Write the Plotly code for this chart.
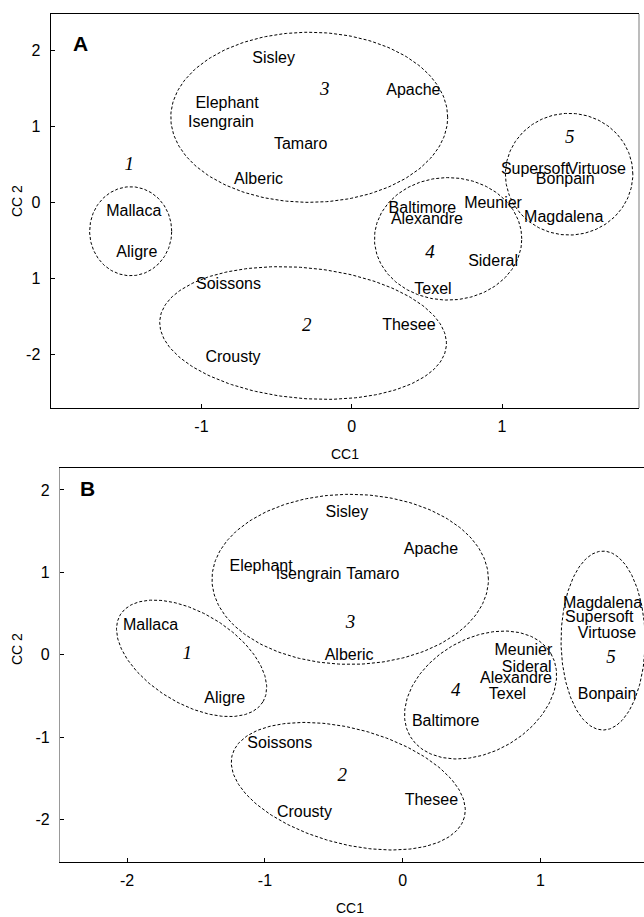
import numpy as np
import plotly.graph_objects as go

# ---------------- Panel A data ----------------
names_A = ["Sisley", "Apache", "Elephant", "Isengrain", "Tamaro", "Alberic",
           "Mallaca", "Aligre", "Soissons", "Crousty", "Thesee",
           "Baltimore", "Alexandre", "Meunier", "Sideral", "Texel",
           "Supersoft", "Virtuose", "Bonpain", "Magdalena"]
cc1_A = [-0.52, 0.41, -0.83, -0.87, -0.34, -0.62,
         -1.45, -1.43, -0.82, -0.79, 0.38,
         0.47, 0.50, 0.94, 0.94, 0.54,
         1.22, 1.63, 1.42, 1.41]
cc2_A = [1.88, 1.47, 1.29, 1.04, 0.75, 0.29,
         -0.13, -0.66, -1.09, -2.05, -1.63,
         -0.09, -0.23, -0.02, -0.78, -1.15,
         0.43, 0.43, 0.29, -0.20]
group_A = ["1", "2", "3", "4", "5"]
group_cc1_A = [-1.48, -0.30, -0.18, 0.52, 1.45]
group_cc2_A = [0.49, -1.63, 1.47, -0.67, 0.84]
# ellipse: centre (cx, cy) and two conjugate semi-axis vectors (ux, uy), (vx, vy)
ell_cx_A = [-1.471, -0.324, -0.283, 0.641, 1.446]
ell_cy_A = [-0.379, -1.717, 1.119, -0.479, 0.371]
ell_u_A = [(0.273, 0.0), (0.953, -0.173), (0.921, 0.0), (0.490, 0.0), (0.424, 0.0)]
ell_v_A = [(0.0, 0.585), (-0.040, -0.855), (0.0, 1.118), (0.0, 0.805), (0.0, 0.800)]
xticks_A = [-1, 0, 1]
yticks_A = [2, 1, 0, -1, -2]
yticktext_A = ["2", "1", "0", "1", "-2"]

# ---------------- Panel B data ----------------
names_B = ["Sisley", "Apache", "Elephant", "Isengrain", "Tamaro", "Alberic",
           "Mallaca", "Aligre", "Soissons", "Crousty", "Thesee",
           "Baltimore", "Alexandre", "Meunier", "Sideral", "Texel",
           "Supersoft", "Virtuose", "Bonpain", "Magdalena"]
cc1_B = [-0.405, 0.205, -1.028, -0.683, -0.217, -0.389,
         -1.830, -1.291, -0.892, -0.713, 0.208,
         0.312, 0.822, 0.876, 0.900, 0.760,
         1.426, 1.483, 1.483, 1.450]
cc2_B = [1.724, 1.27, 1.07, 0.97, 0.97, -0.02,
         0.35, -0.54, -1.08, -1.92, -1.77,
         -0.82, -0.30, 0.05, -0.16, -0.49,
         0.44, 0.25, -0.49, 0.62]
group_B = ["1", "2", "3", "4", "5"]
group_cc1_B = [-1.564, -0.438, -0.378, 0.384, 1.511]
group_cc2_B = [0.0, -1.48, 0.38, -0.44, -0.04]
ell_cx_B = [-1.532, -0.395, -0.381, 0.565, 1.454]
ell_cy_B = [-0.044, -1.596, 0.915, -0.489, 0.172]
ell_u_B = [(0.517, -0.530), (0.842, -0.379), (1.003, 0.0), (0.511, 0.501), (0.305, 0.0)]
ell_v_B = [(-0.172, -0.468), (-0.109, -0.675), (0.0, 1.032), (0.208, -0.593), (0.0, 1.086)]
xticks_B = [-2, -1, 0, 1]
yticks_B = [2, 1, 0, -1, -2]

SANS = "Liberation Sans, Arial, Helvetica, sans-serif"
SERIF = "Liberation Serif, Times New Roman, serif"

fig = go.Figure()
t = np.linspace(0, 2 * np.pi, 240)


def add_panel(xa, ya, names, xs, ys, gl, gx, gy, cxs, cys, us, vs):
    for cx, cy, u, v in zip(cxs, cys, us, vs):
        ex = cx + u[0] * np.cos(t) + v[0] * np.sin(t)
        ey = cy + u[1] * np.cos(t) + v[1] * np.sin(t)
        fig.add_trace(go.Scatter(x=ex, y=ey, mode="lines", xaxis=xa, yaxis=ya,
                                 line=dict(color="black", width=1, dash="3px,2px"),
                                 hoverinfo="skip", showlegend=False))
    fig.add_trace(go.Scatter(x=xs, y=ys, text=names, mode="text", xaxis=xa, yaxis=ya,
                             textposition="middle center",
                             textfont=dict(family=SANS, size=16, color="black"),
                             showlegend=False))
    fig.add_trace(go.Scatter(x=gx, y=gy, text=gl, mode="text", xaxis=xa, yaxis=ya,
                             textposition="middle center",
                             textfont=dict(family=SERIF, size=19, color="black", style="italic"),
                             showlegend=False))


add_panel("x", "y", names_A, cc1_A, cc2_A, group_A, group_cc1_A, group_cc2_A,
          ell_cx_A, ell_cy_A, ell_u_A, ell_v_A)
add_panel("x2", "y2", names_B, cc1_B, cc2_B, group_B, group_cc1_B, group_cc2_B,
          ell_cx_B, ell_cy_B, ell_u_B, ell_v_B)

W, H = 644, 917
axcommon = dict(showgrid=False, zeroline=False, ticks="inside", ticklen=4,
                tickcolor="black", tickwidth=1, showline=True, linewidth=1.3,
                tickfont=dict(family=SANS, size=16, color="black"))

fig.update_layout(
    width=W, height=H, margin=dict(l=0, r=0, t=0, b=0),
    paper_bgcolor="white", plot_bgcolor="white", showlegend=False,
    xaxis=dict(axcommon, domain=[50.7 / W, 639 / W], range=[-2.003, 1.911],
               tickvals=xticks_A, ticktext=[str(v) for v in xticks_A],
               linecolor="black", mirror=True, anchor="y", ticklabelstandoff=4),
    yaxis=dict(axcommon, domain=[1 - 408 / H, 1 - 14 / H], range=[-2.703, 2.477],
               tickvals=yticks_A, ticktext=yticktext_A,
               linecolor="black", anchor="x", ticklabelstandoff=6),
    xaxis2=dict(axcommon, domain=[60 / W, 1.0], range=[-2.487, 1.751],
                tickvals=xticks_B, ticktext=[str(v) for v in xticks_B],
                linecolor="black", mirror=True, anchor="y2", ticklabelstandoff=4),
    yaxis2=dict(axcommon, domain=[1 - 862 / H, 1 - 467.7 / H], range=[-2.516, 2.27],
                tickvals=yticks_B, ticktext=[str(v) for v in yticks_B],
                linecolor="#999999", anchor="x2", ticklabelstandoff=6),
)

# right border of panel A (grey)
fig.add_shape(type="line", xref="paper", yref="paper",
              x0=639 / W, x1=639 / W, y0=1 - 408 / H, y1=1 - 14 / H,
              line=dict(color="#999999", width=1.3))

ann = []
ann.append(dict(text="<b>A</b>", xref="x domain", yref="y domain", x=0.05, y=0.924,
                xanchor="center", yanchor="middle",
                showarrow=False, font=dict(family=SANS, size=21, color="black")))
ann.append(dict(text="<b>B</b>", xref="x2 domain", yref="y2 domain", x=0.0476, y=0.948,
                xanchor="center", yanchor="middle",
                showarrow=False, font=dict(family=SANS, size=21, color="black")))
ann.append(dict(text="CC1", xref="paper", yref="paper", x=345 / W, y=1 - 454 / H,
                xanchor="center", yanchor="middle",
                showarrow=False, font=dict(family=SANS, size=14, color="black")))
ann.append(dict(text="CC1", xref="paper", yref="paper", x=350 / W, y=1 - 908 / H,
                xanchor="center", yanchor="middle",
                showarrow=False, font=dict(family=SANS, size=14, color="black")))
ann.append(dict(text="CC 2", xref="paper", yref="paper", x=17 / W, y=1 - 201 / H,
                xanchor="center", yanchor="middle",
                textangle=-90, showarrow=False, font=dict(family=SANS, size=14, color="black")))
ann.append(dict(text="CC 2", xref="paper", yref="paper", x=17 / W, y=1 - 649 / H,
                xanchor="center", yanchor="middle",
                textangle=-90, showarrow=False, font=dict(family=SANS, size=14, color="black")))
fig.update_layout(annotations=ann)

fig.write_html("out.html")
